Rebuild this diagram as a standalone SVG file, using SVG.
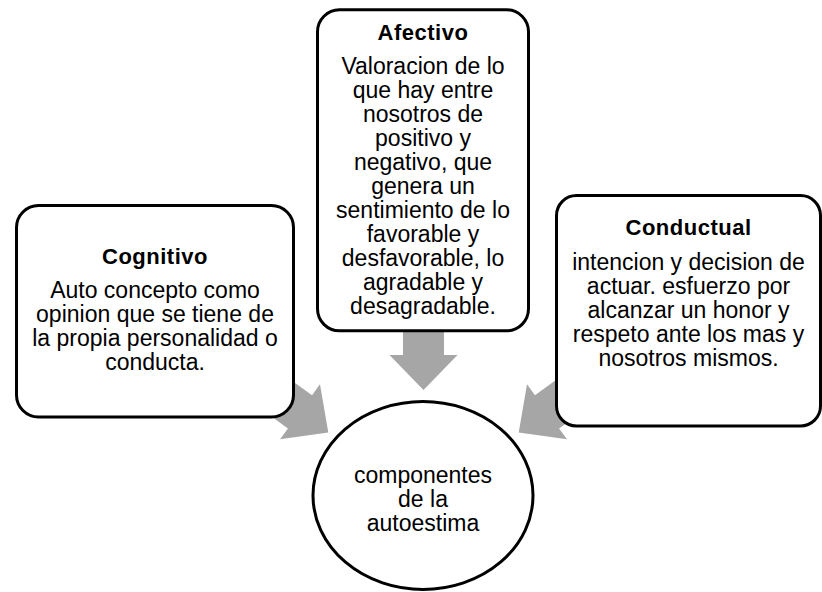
<svg xmlns="http://www.w3.org/2000/svg" width="822" height="592" viewBox="0 0 822 592">
<defs>
<style>
.box{fill:#fff;stroke:#000;stroke-width:3}
.arr{fill:#a6a6a6;stroke:none}
.t{font-family:"Liberation Sans",Arial,sans-serif;font-weight:bold;font-size:22px;fill:#000;text-anchor:middle;letter-spacing:0.5px}
.b{font-family:"Liberation Sans",Arial,sans-serif;font-size:23px;fill:#000;text-anchor:middle}
.c{font-family:"Liberation Sans",Arial,sans-serif;font-size:23px;fill:#000;text-anchor:middle}
</style>
<polygon id="arrowShape" points="-95,-20.5 -35,-20.5 -35,-34 0,0 -35,34 -35,20.5 -95,20.5"/>
</defs>
<rect width="822" height="592" fill="#fff"/>
<g id="connectors">
<use href="#arrowShape" class="arr" transform="translate(423.5,390) rotate(90)"/>
<use href="#arrowShape" class="arr" transform="translate(328.3,432.4) rotate(36)"/>
<use href="#arrowShape" class="arr" transform="translate(518.7,432.4) rotate(144)"/>
</g>
<g id="cognitivo">
<rect class="box" x="16.5" y="205.5" width="277" height="211.5" rx="22"/>
<text class="t" x="155" y="264">Cognitivo</text>
<text class="b" x="155" y="298">Auto concepto como</text>
<text class="b" x="155" y="322">opinion que se tiene de</text>
<text class="b" x="155" y="346">la propia personalidad o</text>
<text class="b" x="155" y="370">conducta.</text>
</g>
<g id="afectivo">
<rect class="box" x="317.5" y="9.8" width="211" height="321" rx="22"/>
<text class="t" x="423" y="40">Afectivo</text>
<text class="b" x="423" y="74">Valoracion de lo</text>
<text class="b" x="423" y="98">que hay entre</text>
<text class="b" x="423" y="122">nosotros de</text>
<text class="b" x="423" y="146">positivo y</text>
<text class="b" x="423" y="170">negativo, que</text>
<text class="b" x="423" y="194">genera un</text>
<text class="b" x="423" y="218">sentimiento de lo</text>
<text class="b" x="423" y="242">favorable y</text>
<text class="b" x="423" y="266">desfavorable, lo</text>
<text class="b" x="423" y="290">agradable y</text>
<text class="b" x="423" y="314">desagradable.</text>
</g>
<g id="conductual">
<rect class="box" x="556.5" y="195.5" width="264" height="230.5" rx="20"/>
<text class="t" x="688.5" y="235">Conductual</text>
<text class="b" x="688.5" y="270">intencion y decision de</text>
<text class="b" x="688.5" y="294">actuar. esfuerzo por</text>
<text class="b" x="688.5" y="318">alcanzar un honor y</text>
<text class="b" x="688.5" y="342">respeto ante los mas y</text>
<text class="b" x="688.5" y="366">nosotros mismos.</text>
</g>
<g id="componentes">
<ellipse class="box" cx="423" cy="495.5" rx="110" ry="94"/>
<text class="c" x="423" y="483">componentes</text>
<text class="c" x="423" y="507">de la</text>
<text class="c" x="423" y="531">autoestima</text>
</g>
</svg>
